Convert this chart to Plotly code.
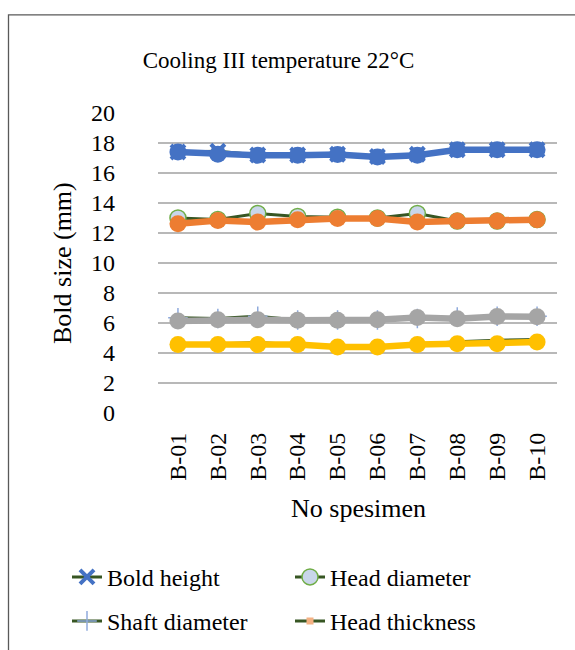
import plotly.graph_objects as go

categories = ["B-01", "B-02", "B-03", "B-04", "B-05", "B-06", "B-07", "B-08", "B-09", "B-10"]

# Legend series (dark green lines)
bold_height = [17.4, 17.45, 17.2, 17.2, 17.25, 17.1, 17.25, 17.55, 17.55, 17.55]
head_diameter = [13.0, 12.9, 13.3, 13.1, 13.05, 13.0, 13.3, 12.8, 12.8, 12.9]
shaft_diameter = [6.35, 6.3, 6.45, 6.2, 6.2, 6.2, 6.3, 6.4, 6.45, 6.45]
head_thickness = [12.6, 12.85, 12.75, 12.9, 12.95, 12.95, 12.75, 12.8, 12.8, 12.9]
series_5 = [4.6, 4.6, 4.7, 4.55, 4.4, 4.4, 4.6, 4.75, 4.85, 4.9]

# Overlay series (thick coloured lines)
blue_vals = [17.4, 17.25, 17.18, 17.18, 17.24, 17.07, 17.18, 17.55, 17.55, 17.55]
orange_vals = [12.62, 12.84, 12.73, 12.89, 12.96, 12.96, 12.73, 12.8, 12.8, 12.89]
gray_vals = [6.13, 6.22, 6.22, 6.18, 6.18, 6.22, 6.36, 6.29, 6.44, 6.42]
yellow_vals = [4.56, 4.56, 4.56, 4.56, 4.4, 4.4, 4.56, 4.62, 4.62, 4.73]

DARK_GREEN = "#375623"
FONT = "Liberation Serif"

fig = go.Figure()

# dark green legend series
fig.add_trace(go.Scatter(
    x=categories, y=bold_height, name="Bold height", mode="lines+markers",
    line=dict(color=DARK_GREEN, width=3),
    marker=dict(symbol="x-thin", size=14, color="#4472C4", line=dict(color="#4472C4", width=4)),
    legend="legend"))
fig.add_trace(go.Scatter(
    x=categories, y=head_diameter, name="Head diameter", mode="lines+markers",
    line=dict(color=DARK_GREEN, width=3),
    marker=dict(symbol="circle", size=16, color="#C9D6EA", line=dict(color="#70AD47", width=1.5)),
    legend="legend"))
fig.add_trace(go.Scatter(
    x=categories, y=shaft_diameter, name="Shaft diameter", mode="lines+markers",
    line=dict(color=DARK_GREEN, width=3),
    marker=dict(symbol="cross-thin", size=14, color="#8FAADC", line=dict(color="#8FAADC", width=1.5)),
    legend="legend2"))
fig.add_trace(go.Scatter(
    x=categories, y=head_thickness, name="Head thickness", mode="lines+markers",
    line=dict(color=DARK_GREEN, width=3),
    marker=dict(symbol="square", size=7, color="#F4B183", line=dict(width=0)),
    legend="legend2"))
fig.add_trace(go.Scatter(
    x=categories, y=series_5, name="Series 5", mode="lines",
    line=dict(color=DARK_GREEN, width=3), showlegend=False))

# coloured overlay series
for vals, col in [(blue_vals, "#4472C4"), (orange_vals, "#ED7D31"),
                  (gray_vals, "#A5A5A5"), (yellow_vals, "#FFC000")]:
    fig.add_trace(go.Scatter(
        x=categories, y=vals, mode="lines+markers", showlegend=False,
        line=dict(color=col, width=6.5),
        marker=dict(symbol="circle", size=17, color=col)))

plot_left, plot_right, plot_top, plot_bottom = 158, 557, 112.7, 412.7
pw = plot_right - plot_left
ph = plot_bottom - plot_top

def px_x(px):
    return (px - plot_left) / pw

def px_y(py):
    return (plot_bottom - py) / ph

fig.update_layout(
    width=575, height=650,
    margin=dict(l=plot_left, r=575 - plot_right, t=plot_top, b=650 - plot_bottom, autoexpand=False),
    paper_bgcolor="white", plot_bgcolor="white",
    font=dict(family=FONT, size=24, color="black"),
    title=dict(text="Cooling III temperature 22°C", xref="container", yref="container",
               x=278.5 / 575, xanchor="center", y=1 - 60 / 650, yanchor="middle",
               font=dict(family=FONT, size=23, color="black")),
    xaxis=dict(type="category", range=[-0.5, 9.5], showgrid=False, zeroline=False,
               showline=False, ticks="", tickangle=-90, ticklabelstandoff=14, automargin=False,
               tickfont=dict(family=FONT, size=24, color="black")),
    yaxis=dict(range=[0, 20], tickmode="linear", tick0=0, dtick=2, showgrid=True,
               gridcolor="#B8B8B8", gridwidth=2, ticklabelstandoff=42,
               zeroline=False, showline=False, automargin=False,
               tickfont=dict(family=FONT, size=24, color="black")),
    showlegend=True,
    legend=dict(orientation="h", x=px_x(67), xanchor="left", y=px_y(577), yanchor="middle",
                entrywidth=178, entrywidthmode="pixels", bgcolor="rgba(0,0,0,0)",
                font=dict(family=FONT, size=24, color="black"), traceorder="normal"),
    legend2=dict(orientation="h", x=px_x(67), xanchor="left", y=px_y(621), yanchor="middle",
                 entrywidth=178, entrywidthmode="pixels", bgcolor="rgba(0,0,0,0)",
                 font=dict(family=FONT, size=24, color="black"), traceorder="normal"),
    annotations=[
        dict(text="Bold size (mm)", xref="paper", yref="paper", x=px_x(62), y=0.5,
             xanchor="center", yanchor="middle", textangle=-90, showarrow=False,
             font=dict(family=FONT, size=26, color="black")),
        dict(text="No spesimen", xref="paper", yref="paper", x=px_x(358), y=px_y(508),
             xanchor="center", yanchor="middle", showarrow=False,
             font=dict(family=FONT, size=26, color="black")),
    ],
    shapes=[
        dict(type="rect", xref="paper", yref="paper", x0=px_x(8.5), x1=px_x(620),
             y0=px_y(700), y1=px_y(14.5), line=dict(color="#595959", width=1.3),
             fillcolor="rgba(0,0,0,0)", layer="above"),
    ],
)

fig.write_html("out.html")
